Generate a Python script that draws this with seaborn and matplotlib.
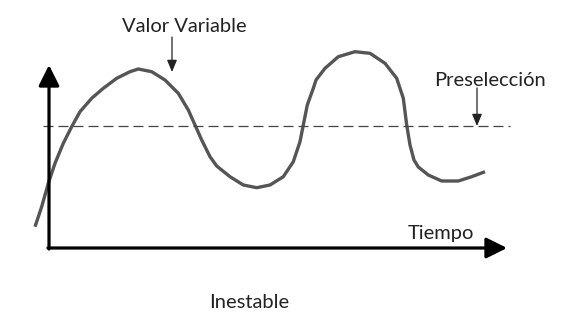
import matplotlib
matplotlib.use("Agg")
import matplotlib.pyplot as plt
import seaborn as sns
import pandas as pd

# Curve: time (px right of the y axis) and value (px above the x axis)
tiempo = [-14.0, -7.3, -0.7, 6.0, 14.3, 22.7, 31.0, 42.7, 54.3, 67.7, 81.0, 89.3,
          102.7, 116.0, 129.3, 139.3, 146.0, 152.7, 161.0, 167.7, 181.0, 194.3,
          207.7, 221.0, 234.3, 244.3, 251.0, 254.3, 258.3, 264.3, 267.0, 276.0,
          289.3, 306.0, 321.0, 336.0, 347.7, 354.3, 357.7, 361.0, 365.0, 369.3,
          379.3, 392.7, 409.3, 422.7, 436.0]
valor = [21.3, 41.3, 64.7, 84.7, 104.7, 121.3, 136.3, 149.7, 159.7, 169.7, 176.3, 179.0,
         176.3, 168.0, 154.7, 138.0, 123.0, 108.0, 91.3, 82.0, 71.3, 63.0,
         60.3, 63.0, 71.3, 86.3, 106.3, 123.0, 143.0, 159.7, 168.0, 179.7,
         191.3, 196.3, 194.7, 184.7, 169.7, 149.7, 123.0, 103.0, 88.0, 81.0,
         73.0, 67.0, 67.0, 71.3, 76.3]

preseleccion = 122.0
labels = {"curve": "Valor Variable", "set": "Preselección", "x": "Tiempo", "title": "Inestable"}

df = pd.DataFrame({"t": tiempo, "v": valor})

sns.set_theme(style="white")
plt.rcParams['font.family'] = ['DejaVu Sans']

fig = plt.figure(figsize=(5.67, 3.2), dpi=100)
ax = fig.add_axes([0, 0, 1, 1])
ax.set_xlim(-49, 518)
ax.set_ylim(-72, 248)
ax.axis("off")

sns.lineplot(data=df, x="t", y="v", ax=ax, color="#555555", lw=2.4, sort=False,
             estimator=None, solid_capstyle="butt", solid_joinstyle="round")

# set point line
ax.plot([-6, 461], [preseleccion, preseleccion], color="#444444", lw=0.9,
        dashes=(8, 4))

# axes arrows
ax.annotate("", xy=(0, 183), xytext=(0, -1),
            arrowprops=dict(arrowstyle="-|>,head_length=0.9,head_width=0.45",
                            lw=2.3, color="black", shrinkA=0, shrinkB=0,
                            mutation_scale=14))
ax.annotate("", xy=(458, 0), xytext=(-1, 0),
            arrowprops=dict(arrowstyle="-|>,head_length=0.9,head_width=0.45",
                            lw=2.3, color="black", shrinkA=0, shrinkB=0,
                            mutation_scale=14))

# label arrows
ax.annotate("", xy=(123, 176), xytext=(123, 211),
            arrowprops=dict(arrowstyle="-|>,head_length=0.6,head_width=0.25",
                            lw=0.9, color="#222222", shrinkA=0, shrinkB=0,
                            mutation_scale=12))
ax.annotate("", xy=(428, 122), xytext=(428, 160),
            arrowprops=dict(arrowstyle="-|>,head_length=0.6,head_width=0.25",
                            lw=0.9, color="#222222", shrinkA=0, shrinkB=0,
                            mutation_scale=12))

tk = dict(ha="center", va="center", fontsize=14.5, color="#222222",
          family=["Lato", "DejaVu Sans"])
ax.text(135, 221, labels["curve"], **tk)
ax.text(441, 167, labels["set"], **tk)
ax.text(392, 14, labels["x"], **tk)
ax.text(200, -54, labels["title"], **tk)

fig.savefig("out.png", dpi=100)
